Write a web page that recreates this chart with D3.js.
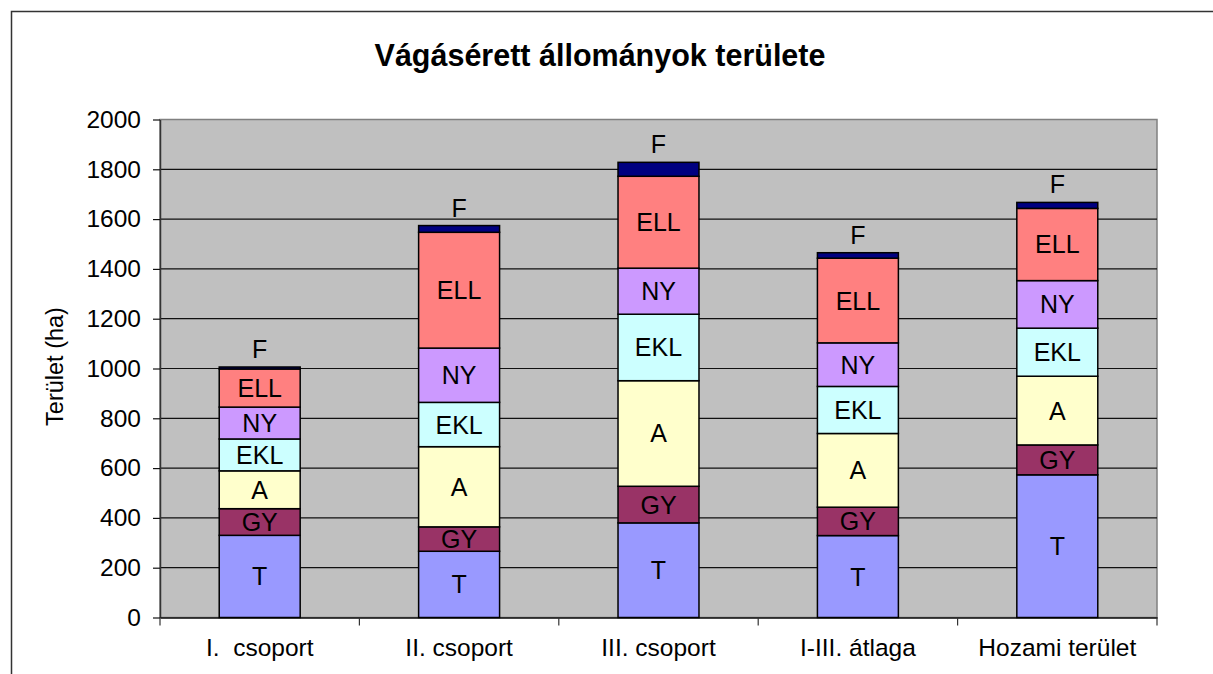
<!DOCTYPE html>
<html>
<head>
<meta charset="utf-8">
<script src="https://cdn.jsdelivr.net/npm/d3@7"></script>
<style>
  body { margin: 0; background: #fff; }
  svg { display: block; font-family: "Liberation Sans", Arial, sans-serif; }
  text { white-space: pre; }
</style>
</head>
<body>
<svg id="chart"></svg>
<script>
// data
const categories = ["I.  csoport", "II. csoport", "III. csoport", "I-III. átlaga", "Hozami terület"];
const seriesNames = ["T", "GY", "A", "EKL", "NY", "ELL", "F"];
const T   = [330, 266, 380, 329, 573];
const GY  = [107,  98, 147, 114, 120];
const A   = [152, 322, 424, 296, 276];
const EKL = [128, 178, 267, 189, 193];
const NY  = [128, 218, 185, 175, 191];
const ELL = [153, 465, 369, 340, 290];
const F   = [  8,  27,  56,  22,  24];
const yTicks = [0, 200, 400, 600, 800, 1000, 1200, 1400, 1600, 1800, 2000];
const colors = ["#9999FF", "#993366", "#FFFFCC", "#CCFFFF", "#CC99FF", "#FF8080", "#000080"];

const w = 1213, h = 674;
const plotLeft = 160, plotRight = 1157, plotTop = 119.5, plotBottom = 617.5;

const rows = categories.map((c, i) => ({
  cat: c, T: T[i], GY: GY[i], A: A[i], EKL: EKL[i], NY: NY[i], ELL: ELL[i], F: F[i]
}));
const stacked = d3.stack().keys(seriesNames)(rows);

const x = d3.scaleBand().domain(categories).range([plotLeft, plotRight]).paddingInner(0.594).paddingOuter(0.297);
const xStep = d3.scaleBand().domain(categories).range([plotLeft, plotRight]);
const y = d3.scaleLinear().domain([0, 2000]).range([plotBottom, plotTop]);

const svg = d3.select("#chart").attr("width", w).attr("height", h);

// outer frame
svg.append("rect")
   .attr("x", 11.5).attr("y", 11.5)
   .attr("width", w).attr("height", h)
   .attr("fill", "none").attr("stroke", "#333").attr("stroke-width", 1.5);

// plot area
svg.append("rect")
   .attr("x", plotLeft).attr("y", plotTop)
   .attr("width", plotRight - plotLeft).attr("height", plotBottom - plotTop)
   .attr("fill", "#C0C0C0").attr("stroke", "#808080").attr("stroke-width", 1.5);

// gridlines
svg.append("g")
   .selectAll("line")
   .data(yTicks.filter(d => d > 0 && d < 2000))
   .enter()
   .append("line")
   .attr("x1", plotLeft).attr("x2", plotRight)
   .attr("y1", d => y(d)).attr("y2", d => y(d))
   .attr("stroke", "#111").attr("stroke-width", 1.2);

// y axis
const yAxis = d3.axisLeft(y).tickValues(yTicks).tickFormat(d3.format("d"))
   .tickSizeInner(7).tickSizeOuter(0).tickPadding(12);
const gy = svg.append("g").attr("transform", `translate(${plotLeft},0)`).call(yAxis);
gy.attr("font-family", null).attr("font-size", null);
gy.select(".domain").attr("stroke", "#333").attr("stroke-width", 1.5);
gy.selectAll(".tick line").attr("stroke", "#111").attr("stroke-width", 1.2);
gy.selectAll(".tick text").style("font-size", "24.5px").attr("fill", "#000");

// x axis
const xAxis = d3.axisBottom(xStep).tickSize(0).tickPadding(21);
const gx = svg.append("g").attr("transform", `translate(0,${plotBottom})`).call(xAxis);
gx.attr("font-family", null).attr("font-size", null);
gx.select(".domain").attr("stroke", "#111").attr("stroke-width", 1.5);
gx.selectAll(".tick text").style("font-size", "24.5px").attr("fill", "#000");
// category separators
svg.append("g")
   .selectAll("line")
   .data(categories.map(c => xStep(c)).concat([plotRight]))
   .enter()
   .append("line")
   .attr("x1", d => d).attr("x2", d => d)
   .attr("y1", plotBottom).attr("y2", plotBottom + 8)
   .attr("stroke", "#333").attr("stroke-width", 1.2);

// bars
const layers = svg.append("g")
   .selectAll("g")
   .data(stacked)
   .enter()
   .append("g")
   .attr("fill", (d, i) => colors[i]);

layers.selectAll("rect")
   .data(d => d)
   .enter()
   .append("rect")
   .attr("x", d => x(d.data.cat))
   .attr("y", d => y(d[1]))
   .attr("width", x.bandwidth())
   .attr("height", d => y(d[0]) - y(d[1]))
   .attr("stroke", "#000").attr("stroke-width", 1.5);

// segment labels
stacked.forEach(layer => {
  svg.append("g")
     .selectAll("text")
     .data(layer)
     .enter()
     .append("text")
     .attr("x", d => x(d.data.cat) + x.bandwidth() / 2)
     .attr("y", d => layer.key === "F" ? y(d[1]) - 9 : (y(d[0]) + y(d[1])) / 2 + 9)
     .attr("text-anchor", "middle")
     .style("font-size", "25px")
     .attr("fill", "#000")
     .text(layer.key);
});

// title
svg.append("text")
   .attr("x", 600).attr("y", 66)
   .attr("text-anchor", "middle")
   .style("font-size", "30.5px").attr("font-weight", "bold")
   .text("Vágásérett állományok területe");

// y title
svg.append("text")
   .attr("transform", `translate(63, ${(plotTop + plotBottom) / 2 - 2}) rotate(-90)`)
   .attr("text-anchor", "middle")
   .style("font-size", "23.5px")
   .text("Terület (ha)");
</script>
</body>
</html>
